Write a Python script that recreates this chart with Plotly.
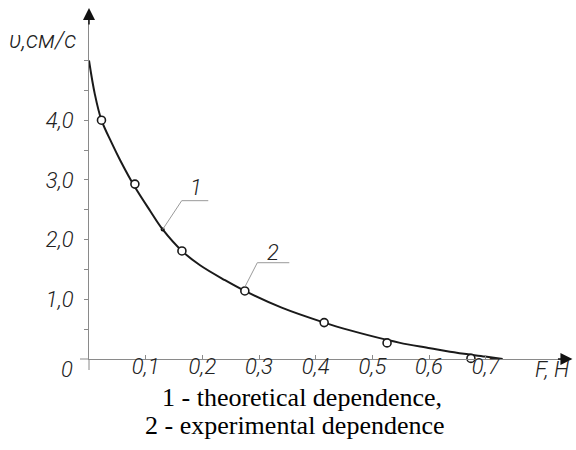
import plotly.graph_objects as go

# theoretical curve
F_curve = [0.0, 0.01, 0.022, 0.04, 0.055, 0.081, 0.108, 0.130, 0.164, 0.196, 0.24,
           0.275, 0.34, 0.415, 0.461, 0.526, 0.549, 0.602, 0.637, 0.699, 0.73]
v_curve = [5.0, 4.45, 4.0, 3.62, 3.33, 2.88, 2.48, 2.17, 1.81, 1.57, 1.32,
           1.14, 0.86, 0.61, 0.48, 0.32, 0.27, 0.18, 0.12, 0.04, 0.0]

# experimental points
F_exp = [0.022, 0.081, 0.164, 0.275, 0.415, 0.526, 0.674]
v_exp = [4.0, 2.93, 1.81, 1.14, 0.61, 0.27, 0.01]

x_tickvals = [0.1, 0.2, 0.3, 0.4, 0.5, 0.6, 0.7]
x_ticktext = ["0,1", "0,2", "0,3", "0,4", "0,5", "0,6", "0,7"]
y_tickvals = [0.5, 1.0, 1.5, 2.0, 2.5, 3.0, 3.5, 4.0, 4.5, 5.0]
y_ticktext = ["", "1,0", "", "2,0", "", "3,0", "", "4,0", "", ""]

caption_lines = ["1 - theoretical dependence,", "2 - experimental dependence"]

GOST = dict(family="Roboto, DejaVu Sans", size=22, color="#222", style="italic", weight=300)
AX = "#8a8a8a"

fig = go.Figure()
fig.add_trace(go.Scatter(x=F_curve, y=v_curve, mode="lines", line=dict(color="#1a1a1a", width=2, shape="spline"),
                         hoverinfo="skip", cliponaxis=False))
fig.add_trace(go.Scatter(x=F_exp, y=v_exp, mode="markers",
                         marker=dict(symbol="circle", size=8, color="white", line=dict(color="#1a1a1a", width=1.6)),
                         cliponaxis=False))
# leader dot on curve
fig.add_trace(go.Scatter(x=[0.130], y=[2.17], mode="markers", marker=dict(size=4, color="#111"), cliponaxis=False))

fig.update_layout(
    width=576, height=450, showlegend=False,
    margin=dict(l=89, r=5, t=10, b=91),
    paper_bgcolor="white", plot_bgcolor="white",
    xaxis=dict(range=[0, 0.8506], showgrid=False, zeroline=False, showline=True, linecolor=AX, linewidth=1,
               tickvals=x_tickvals, ticktext=x_ticktext, ticks="inside", ticklen=4, tickcolor=AX,
               tickfont=GOST, ticklabelstandoff=-12),
    yaxis=dict(range=[0, 5.846], showgrid=False, zeroline=False, showline=True, linecolor=AX, linewidth=1,
               tickvals=y_tickvals, ticktext=y_ticktext, ticks="outside", ticklen=4, tickcolor=AX,
               tickfont=GOST, ticklabelstandoff=6),
)

# axis extensions past origin
fig.add_shape(type="line", xref="paper", yref="paper", x0=-9/482, x1=0, y0=0, y1=0, line=dict(color=AX, width=1))
fig.add_shape(type="line", xref="paper", yref="paper", x0=0, x1=0, y0=-11/349, y1=0, line=dict(color=AX, width=1))

# leader lines
lead = dict(color="#9a9a9a", width=1)
fig.add_shape(type="line", x0=0.130, y0=2.17, x1=0.1636, y1=2.652, line=lead)
fig.add_shape(type="line", x0=0.1636, y0=2.652, x1=0.2105, y1=2.652, line=lead)
fig.add_shape(type="line", x0=0.2753, y0=1.211, x1=0.297, y1=1.613, line=lead)
fig.add_shape(type="line", x0=0.297, y0=1.613, x1=0.3535, y1=1.613, line=lead)

fig.add_annotation(x=0.189, y=2.87, text="1", showarrow=False, font=GOST)
fig.add_annotation(x=0.324, y=1.79, text="2", showarrow=False, font=GOST)

# arrowheads
fig.add_annotation(xref="paper", yref="paper", x=1.003, y=0, ax=-16, ay=0, text="", showarrow=True,
                   arrowhead=2, arrowsize=1.6, arrowwidth=1.5, arrowcolor="#111")
fig.add_annotation(xref="paper", yref="paper", x=0, y=1.006, ax=0, ay=18, text="", showarrow=True,
                   arrowhead=2, arrowsize=1.6, arrowwidth=1.5, arrowcolor="#111")

# axis labels
fig.add_annotation(xref="paper", yref="paper", x=-0.0228, y=0.914, xanchor="right", yanchor="middle",
                   text="υ,см/с", showarrow=False, font=dict(GOST, size=24))
fig.add_annotation(xref="paper", yref="paper", x=0.9606, y=-0.0315, xanchor="center", yanchor="middle",
                   text="F, Н", showarrow=False, font=GOST)
fig.add_annotation(xref="paper", yref="paper", x=-0.0456, y=-0.0315, xanchor="center", yanchor="middle",
                   text="0", showarrow=False, font=GOST)

# caption
cap_font = dict(family="Liberation Serif, Times New Roman, serif", size=26, color="black")
fig.add_annotation(xref="paper", yref="paper", x=(302 - 89) / 482, y=(359 - 397) / 349, xanchor="center",
                   yanchor="middle", text=caption_lines[0], showarrow=False, font=cap_font)
fig.add_annotation(xref="paper", yref="paper", x=(295 - 89) / 482, y=(359 - 425) / 349, xanchor="center",
                   yanchor="middle", text=caption_lines[1], showarrow=False, font=cap_font)

fig.write_html("out.html")
